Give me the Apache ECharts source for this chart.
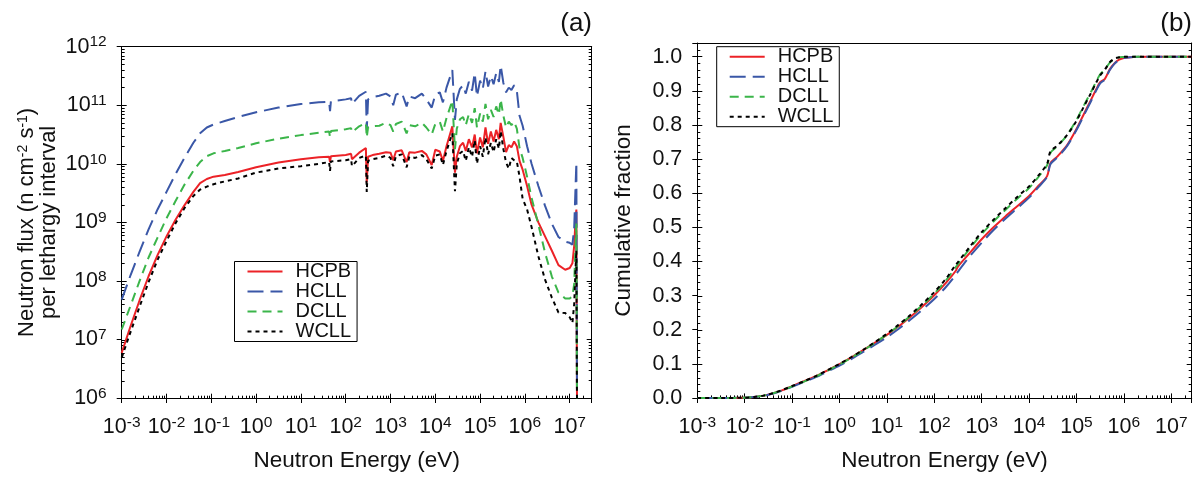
<!DOCTYPE html>
<html>
<head>
<meta charset="utf-8">
<script src="https://cdn.jsdelivr.net/npm/echarts@6/dist/echarts.min.js"></script>
<style>
html,body{margin:0;padding:0;background:#fff;}
#chart{width:1197px;height:477px;}
</style>
</head>
<body>
<div id="chart"></div>
<script>
// ---------------- DATA ----------------
// Panel (a): neutron energy grid (eV)
const energyA = [
  1e-3, 1.58e-3, 2.51e-3, 3.98e-3, 6.31e-3, 1e-2, 1.58e-2, 2.51e-2, 3.98e-2, 5.62e-2,
  7.94e-2, 0.112, 0.2, 0.398, 1, 3.16, 10, 25.1, 42.7, 44.7,
  46.8, 100, 132, 138, 200, 282, 295, 316, 398, 562,
  794, 1000, 1150, 1320, 1780, 2290, 2630, 3550, 5010, 6310,
  8320, 1.0e4, 1.26e4, 1.48e4, 1.78e4, 2.40e4, 2.75e4, 3.02e4, 3.55e4, 4.17e4,
  4.79e4, 5.62e4, 6.61e4, 7.59e4, 8.51e4, 1.0e5, 1.15e5, 1.32e5, 1.51e5, 1.74e5,
  2.0e5, 2.29e5, 2.63e5, 2.88e5, 3.31e5, 3.80e5, 4.37e5, 5.01e5, 5.75e5, 6.61e5,
  7.59e5, 8.91e5, 1.12e6, 1.41e6, 2.0e6, 2.82e6, 3.98e6, 5.62e6, 7.94e6, 1.0e7,
  1.15e7, 1.26e7, 1.35e7, 1.41e7, 1.46e7
];
// Neutron flux per lethargy interval (n cm^-2 s^-1)
const fluxHCPB = [
  5.89e6, 1.70e7, 4.68e7, 1.20e8, 2.75e8, 5.75e8, 1.10e9, 1.95e9, 3.31e9, 4.68e9,
  5.50e9, 6.03e9, 6.46e9, 7.24e9, 8.71e9, 1.05e10, 1.20e10, 1.29e10, 1.32e10, 1.07e10,
  1.35e10, 1.41e10, 1.48e10, 1.20e10, 1.55e10, 1.86e10, 4.79e9, 1.32e10, 1.41e10, 1.48e10,
  1.58e10, 1.55e10, 1.15e10, 1.62e10, 1.70e10, 1.07e10, 1.58e10, 1.55e10, 1.66e10, 1.45e10,
  9.55e9, 1.74e10, 1.62e10, 1.12e10, 2.00e10, 4.37e10, 7.08e9, 1.32e10, 2.00e10, 2.29e10,
  1.66e10, 2.63e10, 1.91e10, 3.16e10, 1.51e10, 2.82e10, 1.91e10, 4.17e10, 2.19e10, 3.55e10,
  2.40e10, 3.80e10, 2.63e10, 5.01e10, 2.88e10, 1.58e10, 2.09e10, 1.91e10, 2.40e10, 2.00e10,
  1.12e10, 7.94e9, 4.17e9, 2.00e9, 1.00e9, 5.75e8, 3.31e8, 1.86e8, 1.55e8, 1.66e8,
  2.00e8, 3.98e8, 1.12e9, 1.66e9, 5e5
];
const fluxHCLL = [
  4.79e7, 1.26e8, 3.16e8, 7.59e8, 1.66e9, 3.31e9, 6.61e9, 1.26e10, 2.29e10, 3.31e10,
  4.17e10, 4.68e10, 5.37e10, 6.31e10, 7.59e10, 9.12e10, 1.05e11, 1.12e11, 1.15e11, 7.94e10,
  1.17e11, 1.26e11, 1.32e11, 1.05e11, 1.45e11, 1.70e11, 3.80e10, 1.26e11, 1.38e11, 1.45e11,
  1.58e11, 1.41e11, 1.00e11, 1.51e11, 1.66e11, 9.55e10, 1.41e11, 1.32e11, 1.58e11, 1.26e11,
  9.12e10, 1.51e11, 1.66e11, 1.12e11, 2.00e11, 3.98e11, 5.62e10, 1.26e11, 1.91e11, 2.19e11,
  1.58e11, 2.51e11, 1.78e11, 3.55e11, 1.41e11, 2.63e11, 1.91e11, 3.80e11, 2.09e11, 3.16e11,
  2.29e11, 3.55e11, 2.51e11, 4.79e11, 2.40e11, 1.66e11, 2.00e11, 1.82e11, 2.19e11, 1.78e11,
  6.61e10, 4.47e10, 2.00e10, 1.00e10, 4.17e9, 1.91e9, 9.55e8, 5.62e8, 4.68e8, 4.47e8,
  4.17e8, 7.94e8, 3.98e9, 1.05e10, 5e5
];
const fluxDCLL = [
  1.48e7, 3.80e7, 1.00e8, 2.51e8, 5.50e8, 1.17e9, 2.29e9, 4.37e9, 7.59e9, 1.07e10,
  1.35e10, 1.51e10, 1.66e10, 1.86e10, 2.24e10, 2.69e10, 3.09e10, 3.39e10, 3.55e10, 2.82e10,
  3.63e10, 3.89e10, 4.07e10, 3.47e10, 4.37e10, 5.01e10, 2.82e10, 4.17e10, 4.37e10, 4.47e10,
  5.01e10, 4.57e10, 3.55e10, 4.79e10, 5.25e10, 3.31e10, 4.57e10, 4.37e10, 5.01e10, 4.17e10,
  3.16e10, 4.79e10, 5.25e10, 3.55e10, 6.03e10, 1.20e11, 1.78e10, 3.98e10, 5.75e10, 6.31e10,
  4.57e10, 7.08e10, 5.01e10, 8.91e10, 4.17e10, 7.24e10, 5.25e10, 1.05e11, 5.75e10, 8.32e10,
  6.31e10, 9.55e10, 6.92e10, 1.26e11, 6.61e10, 4.17e10, 5.25e10, 4.57e10, 5.25e10, 3.98e10,
  1.86e10, 1.26e10, 6.03e9, 2.63e9, 9.12e8, 3.02e8, 1.20e8, 6.31e7, 5.01e7, 5.01e7,
  5.50e7, 8.91e7, 3.98e8, 9.55e8, 5e5
];
const fluxWCLL = [
  4.90e6, 1.35e7, 3.63e7, 9.55e7, 2.29e8, 4.79e8, 9.55e8, 1.74e9, 2.82e9, 3.63e9,
  4.07e9, 4.47e9, 5.01e9, 5.62e9, 7.08e9, 8.32e9, 9.12e9, 1.00e10, 1.07e10, 7.59e9,
  1.10e10, 1.15e10, 1.20e10, 9.12e9, 1.26e10, 1.38e10, 3.31e9, 1.12e10, 1.20e10, 1.26e10,
  1.38e10, 1.26e10, 9.12e9, 1.35e10, 1.45e10, 8.71e9, 1.32e10, 1.26e10, 1.41e10, 1.20e10,
  8.32e9, 1.38e10, 1.45e10, 9.55e9, 1.66e10, 3.31e10, 3.39e9, 1.00e10, 1.51e10, 1.66e10,
  1.12e10, 1.91e10, 1.32e10, 2.51e10, 1.00e10, 2.00e10, 1.32e10, 2.82e10, 1.45e10, 2.29e10,
  1.58e10, 2.63e10, 1.82e10, 3.63e10, 1.78e10, 1.05e10, 8.32e9, 1.26e10, 1.15e10, 1.10e10,
  6.03e9, 2.51e9, 1.66e9, 8.32e8, 2.63e8, 1.05e8, 5.25e7, 2.88e7, 2.82e7, 2.40e7,
  1.91e7, 3.98e7, 1.58e8, 3.31e8, 5e5
];

// Panel (b): cumulative fraction
const energyB = [
  1e-3, 3.16e-3, 0.01, 0.0158, 0.0251, 0.0398, 0.0631, 0.1, 0.178, 0.316,
  0.562, 1, 1.78, 3.16, 5.62, 10, 17.8, 31.6, 56.2, 100,
  178, 282, 316, 562, 1000, 1780, 3160, 5620, 1e4, 1.58e4,
  2.4e4, 2.82e4, 3.98e4, 6.31e4, 1e5, 1.41e5, 2e5, 2.63e5, 3.16e5, 3.98e5,
  5.01e5, 6.31e5, 7.94e5, 1e6, 1.58e6, 3.16e6, 1e7, 2.7e7
];
const cumHCPB = [
  0, 0, 0.001, 0.003, 0.007, 0.014, 0.023, 0.035, 0.049, 0.064,
  0.081, 0.099, 0.119, 0.140, 0.162, 0.185, 0.210, 0.238, 0.268, 0.301,
  0.338, 0.372, 0.385, 0.425, 0.465, 0.500, 0.532, 0.562, 0.592, 0.622,
  0.650, 0.688, 0.708, 0.740, 0.788, 0.830, 0.872, 0.905, 0.925, 0.935,
  0.962, 0.980, 0.991, 0.996, 0.999, 1.0, 1.0, 1.0
];
const cumHCLL = [
  0, 0, 0.001, 0.003, 0.006, 0.013, 0.022, 0.033, 0.047, 0.061,
  0.078, 0.095, 0.114, 0.135, 0.156, 0.178, 0.203, 0.230, 0.259, 0.290,
  0.326, 0.360, 0.370, 0.415, 0.455, 0.492, 0.525, 0.556, 0.587, 0.618,
  0.648, 0.685, 0.705, 0.738, 0.785, 0.826, 0.868, 0.902, 0.922, 0.933,
  0.960, 0.979, 0.990, 0.996, 0.999, 1.0, 1.0, 1.0
];
const cumDCLL = [
  0, 0, 0.001, 0.003, 0.007, 0.014, 0.023, 0.034, 0.048, 0.063,
  0.080, 0.098, 0.118, 0.139, 0.162, 0.186, 0.212, 0.241, 0.272, 0.306,
  0.345, 0.383, 0.392, 0.438, 0.480, 0.517, 0.551, 0.584, 0.615, 0.648,
  0.682, 0.718, 0.738, 0.770, 0.815, 0.855, 0.895, 0.928, 0.948, 0.962,
  0.982, 0.993, 0.998, 0.999, 1.0, 1.0, 1.0, 1.0
];
const cumWCLL = [
  0, 0, 0.001, 0.003, 0.007, 0.014, 0.024, 0.035, 0.049, 0.064,
  0.082, 0.100, 0.120, 0.141, 0.164, 0.188, 0.215, 0.244, 0.276, 0.310,
  0.350, 0.390, 0.398, 0.443, 0.486, 0.522, 0.556, 0.589, 0.620, 0.652,
  0.686, 0.722, 0.740, 0.770, 0.812, 0.852, 0.892, 0.925, 0.945, 0.962,
  0.983, 0.994, 0.998, 1.0, 1.0, 1.0, 1.0, 1.0
];

const seriesNames = ['HCPB', 'HCLL', 'DCLL', 'WCLL'];
// Tick labels
const energyTickExps = [-3, -2, -1, 0, 1, 2, 3, 4, 5, 6, 7];
const fluxTickExps = [6, 7, 8, 9, 10, 11, 12];
const fractionTickLabels = ['0.0','0.1','0.2','0.3','0.4','0.5','0.6','0.7','0.8','0.9','1.0'];

// ---------------- STYLE ----------------
const FONT = "'Liberation Sans', Arial, Helvetica, sans-serif";
const INK = '#111';
const styles = {
  HCPB: { color: '#ec2227', type: 'solid' },
  HCLL: { color: '#3a57a7', type: [16, 7] },
  DCLL: { color: '#3bb54a', type: [9, 6] },
  WCLL: { color: '#000000', type: [4, 4] }
};

const powRich = {
  b: { fontSize: 21.5, lineHeight: 25, fontFamily: FONT, color: INK },
  s: { fontSize: 15.5, lineHeight: 10, verticalAlign: 'top', fontFamily: FONT, color: INK }
};
function powLabel(exps) {
  return function (v) {
    const l = Math.log10(v);
    const e = Math.round(l);
    if (Math.abs(l - e) > 1e-6 || exps.indexOf(e) < 0) return '';
    return '{b|10}{s|' + e + '}';
  };
}

function pairs(xs, ys) { return xs.map((x, i) => [x, ys[i]]); }

const axisLine = { show: true, onZero: false, lineStyle: { color: '#000', width: 1 } };
const noLine = { show: false };
const tickStyle = { color: '#000', width: 1 };

// main bottom energy axis: outer half of major ticks + labels + title
function energyAxisMain(grid, max) {
  return {
    gridIndex: grid, type: 'log', logBase: 10, min: 1e-3, max: max, position: 'bottom',
    interval: 1, splitNumber: 11,
    axisLine: axisLine,
    axisTick: { show: true, inside: false, length: 5, lineStyle: tickStyle },
    minorTick: { show: false },
    splitLine: { show: false }, minorSplitLine: { show: false },
    axisLabel: { show: true, margin: 17, formatter: powLabel(energyTickExps), rich: powRich },
    name: 'Neutron Energy (eV)', nameLocation: 'middle', nameGap: 51,
    nameTextStyle: { fontSize: 22.5, fontFamily: FONT, color: INK }
  };
}
// inner ticks (major + minor) on an overlay grid
function energyAxisInner(grid, max) {
  return {
    gridIndex: grid, type: 'log', logBase: 10, min: 1e-3, max: max, position: 'bottom',
    interval: 1, splitNumber: 11,
    axisLine: noLine,
    axisTick: { show: true, inside: true, length: 5, lineStyle: tickStyle },
    minorTick: { show: true, splitNumber: 9, length: 3, lineStyle: tickStyle },
    splitLine: { show: false }, minorSplitLine: { show: false },
    axisLabel: { show: false }
  };
}
function energyAxisTop(grid, max) {
  return {
    gridIndex: grid, type: 'log', logBase: 10, min: 1e-3, max: max, position: 'top',
    axisLine: axisLine, axisTick: { show: false }, minorTick: { show: false },
    splitLine: { show: false }, axisLabel: { show: false }
  };
}
function fluxAxis(grid, pos, opts) {
  return Object.assign({
    gridIndex: grid, type: 'log', logBase: 10, min: 1e6, max: 1e12, position: pos,
    axisLine: axisLine,
    axisTick: { show: true, inside: false, length: 5, lineStyle: tickStyle },
    minorTick: { show: false },
    splitLine: { show: false }, axisLabel: { show: false }
  }, opts);
}
function fracAxis(grid, pos, opts) {
  return Object.assign({
    gridIndex: grid, type: 'value', min: 0, max: 1.04, interval: 0.1, position: pos,
    axisLine: axisLine,
    axisTick: { show: true, inside: false, length: 5, lineStyle: tickStyle },
    minorTick: { show: false },
    splitLine: { show: false }, axisLabel: { show: false }
  }, opts);
}

const fluxName = '{t|Neutron flux (n cm}{u|-2}{t| s}{u|-1}{t|)}\n{t|per lethargy interval}';
const legendBase = {
  data: seriesNames, orient: 'vertical',
  padding: [0, 6, 0, 12], itemGap: 0, itemWidth: 35, itemHeight: 14,
  borderColor: '#000', borderWidth: 1, backgroundColor: '#fff',
  itemStyle: { opacity: 0 },
  textStyle: { fontSize: 20, fontFamily: FONT, color: INK, lineHeight: 20, padding: [0, 0, 0, 8] },
  selectedMode: false
};

const gridA = { left: 121.7, top: 46.7, width: 470, height: 352 };
const gridB = { left: 697.3, top: 43, width: 494.4, height: 355.4 };

const option = {
  animation: false,
  backgroundColor: '#fff',
  textStyle: { fontFamily: FONT },
  title: [
    { text: '(a)', right: 605, top: 11, padding: 0, textStyle: { fontSize: 26, fontWeight: 'normal', fontFamily: FONT, color: INK } },
    { text: '(b)', right: 5, top: 11, padding: 0, textStyle: { fontSize: 26, fontWeight: 'normal', fontFamily: FONT, color: INK } }
  ],
  grid: [gridA, gridB, Object.assign({}, gridA), Object.assign({}, gridB)],
  legend: [
    Object.assign({}, legendBase, { left: 234.5, top: 261.5 }),
    Object.assign({}, legendBase, { left: 716.7, top: 46.7 })
  ],
  xAxis: [
    energyAxisMain(0, 3.1e7),
    energyAxisTop(0, 3.1e7),
    energyAxisMain(1, 2.7e7),
    energyAxisTop(1, 2.7e7),
    energyAxisInner(2, 3.1e7),
    energyAxisInner(3, 2.7e7)
  ],
  yAxis: [
    fluxAxis(0, 'left', {
      axisLabel: { show: true, margin: 15, formatter: powLabel(fluxTickExps), rich: powRich },
      name: fluxName, nameLocation: 'middle', nameGap: 62,
      nameTextStyle: {
        color: INK,
        rich: {
          t: { fontSize: 22, lineHeight: 22, fontFamily: FONT, color: INK },
          u: { fontSize: 14, lineHeight: 10, verticalAlign: 'top', fontFamily: FONT, color: INK }
        }
      }
    }),
    fluxAxis(0, 'right', {
      axisTick: { show: true, inside: true, length: 5, lineStyle: tickStyle },
      minorTick: { show: true, splitNumber: 9, length: 3, lineStyle: tickStyle }
    }),
    fracAxis(1, 'left', {
      axisLabel: {
        show: true, margin: 15, fontSize: 21.5, fontFamily: FONT, color: INK,
        formatter: function (v) { const i = Math.round(v * 10); return (Math.abs(v * 10 - i) < 1e-6 && fractionTickLabels[i]) ? fractionTickLabels[i] : ''; }
      },
      name: 'Cumulative fraction', nameLocation: 'middle', nameGap: 62,
      nameTextStyle: { fontSize: 22.5, fontFamily: FONT, color: INK }
    }),
    fracAxis(1, 'right', {
      axisTick: { show: true, inside: true, length: 5, lineStyle: tickStyle },
      minorTick: { show: true, splitNumber: 5, length: 3, lineStyle: tickStyle }
    }),
    fluxAxis(2, 'left', {
      axisLine: noLine,
      axisTick: { show: true, inside: true, length: 5, lineStyle: tickStyle },
      minorTick: { show: true, splitNumber: 9, length: 3, lineStyle: tickStyle }
    }),
    fracAxis(3, 'left', {
      axisLine: noLine,
      axisTick: { show: true, inside: true, length: 5, lineStyle: tickStyle },
      minorTick: { show: true, splitNumber: 5, length: 3, lineStyle: tickStyle }
    })
  ],
  series: []
};

const fluxData = { HCPB: fluxHCPB, HCLL: fluxHCLL, DCLL: fluxDCLL, WCLL: fluxWCLL };
const cumData = { HCPB: cumHCPB, HCLL: cumHCLL, DCLL: cumDCLL, WCLL: cumWCLL };
seriesNames.forEach(function (n) {
  option.series.push({
    name: n, type: 'line', xAxisIndex: 0, yAxisIndex: 0, data: pairs(energyA, fluxData[n]),
    showSymbol: false, symbol: 'none', clip: true, silent: true,
    lineStyle: { color: styles[n].color, width: 2, type: styles[n].type },
    itemStyle: { color: styles[n].color }
  });
});
seriesNames.forEach(function (n) {
  option.series.push({
    name: n, type: 'line', xAxisIndex: 2, yAxisIndex: 2, data: pairs(energyB, cumData[n]),
    showSymbol: false, symbol: 'none', clip: true, silent: true, smooth: 0.3,
    lineStyle: { color: styles[n].color, width: 2, type: styles[n].type },
    itemStyle: { color: styles[n].color }
  });
});

const chart = echarts.init(document.getElementById('chart'), null, { renderer: 'canvas' });
chart.setOption(option);
</script>
</body>
</html>
